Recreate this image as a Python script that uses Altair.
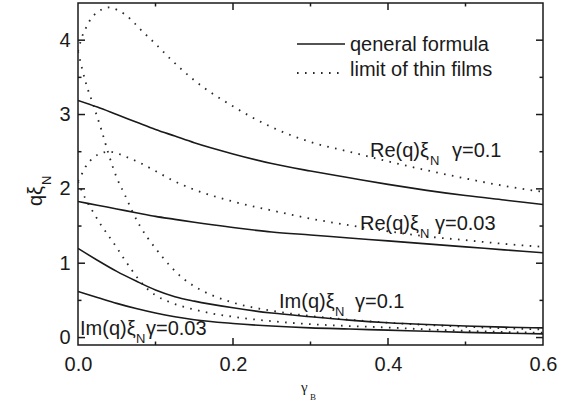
import altair as alt
import pandas as pd

# ---------------- data ----------------
x_gen = [0, 0.025, 0.05, 0.075, 0.1, 0.125, 0.15, 0.2, 0.25, 0.3, 0.35, 0.4, 0.45, 0.5, 0.55, 0.6]
re01_gen = [3.19, 3.10, 3.00, 2.90, 2.80, 2.71, 2.62, 2.47, 2.34, 2.24, 2.15, 2.06, 1.98, 1.91, 1.85, 1.79]
re003_gen = [1.83, 1.78, 1.73, 1.68, 1.63, 1.59, 1.55, 1.48, 1.42, 1.38, 1.34, 1.30, 1.26, 1.22, 1.18, 1.14]
im01_gen = [1.20, 1.04, 0.89, 0.76, 0.64, 0.55, 0.49, 0.40, 0.33, 0.28, 0.235, 0.20, 0.175, 0.155, 0.14, 0.13]
im003_gen = [0.62, 0.54, 0.46, 0.39, 0.33, 0.28, 0.24, 0.19, 0.155, 0.13, 0.115, 0.10, 0.085, 0.07, 0.06, 0.05]

x_re01_thin = [0, 0.005, 0.01, 0.015, 0.02, 0.03, 0.04, 0.05, 0.06, 0.07, 0.08, 0.09, 0.1, 0.12,
               0.15, 0.2, 0.25, 0.3, 0.35, 0.4, 0.45, 0.5, 0.55, 0.6]
re01_thin = [3.85, 4.04, 4.16, 4.26, 4.33, 4.41, 4.44, 4.41, 4.35, 4.26, 4.15, 4.05, 3.95, 3.74,
             3.46, 3.11, 2.83, 2.63, 2.50, 2.37, 2.25, 2.14, 2.04, 1.96]

x_im01_thin = [0, 0.01, 0.02, 0.03, 0.04, 0.05, 0.06, 0.07, 0.08, 0.09, 0.1, 0.11, 0.12, 0.135,
               0.15, 0.175, 0.2, 0.25, 0.3, 0.35, 0.4, 0.45, 0.5, 0.55, 0.6]
im01_thin = [3.85, 3.43, 3.12, 2.80, 2.45, 2.15, 1.93, 1.70, 1.50, 1.34, 1.20, 1.07, 0.95, 0.80,
             0.69, 0.56, 0.47, 0.36, 0.29, 0.24, 0.20, 0.17, 0.145, 0.125, 0.11]

x_re003_thin = [0, 0.005, 0.01, 0.02, 0.03, 0.04, 0.05, 0.06, 0.08, 0.1, 0.125, 0.15, 0.2, 0.25,
                0.3, 0.35, 0.4, 0.45, 0.5, 0.55, 0.6]
re003_thin = [2.10, 2.20, 2.30, 2.42, 2.48, 2.50, 2.48, 2.44, 2.35, 2.24, 2.10, 1.99, 1.83, 1.71,
              1.60, 1.51, 1.43, 1.36, 1.31, 1.26, 1.22]

x_im003_thin = [0, 0.005, 0.01, 0.02, 0.03, 0.04, 0.05, 0.06, 0.07, 0.08, 0.09, 0.1, 0.12, 0.145,
                0.175, 0.2, 0.25, 0.3, 0.35, 0.4, 0.45, 0.5, 0.55, 0.6]
im003_thin = [2.10, 1.97, 1.86, 1.68, 1.51, 1.36, 1.21, 1.05, 0.90, 0.76, 0.65, 0.57, 0.47, 0.39,
              0.32, 0.28, 0.22, 0.18, 0.155, 0.135, 0.11, 0.09, 0.075, 0.065]

x_tick_labels = [0, 0.2, 0.4, 0.6]
y_tick_labels = [0, 1, 2, 3, 4]
x_major = [0.2, 0.4]
x_minor = [0.1, 0.3, 0.5]
y_major = [0, 1, 2, 3, 4]
y_minor = [0.5, 1.5, 2.5, 3.5]

legend_labels = ["qeneral formula", "limit of thin films"]

# ---------------- build tables ----------------
rows = []
for name, xs_, ys_ in [("re01", x_gen, re01_gen), ("re003", x_gen, re003_gen),
                       ("im01", x_gen, im01_gen), ("im003", x_gen, im003_gen)]:
    for a, b in zip(xs_, ys_):
        rows.append({"x": a, "y": b, "series": name})
gen_df = pd.DataFrame(rows)

rows = []
for name, xs_, ys_ in [("re01", x_re01_thin, re01_thin), ("re003", x_re003_thin, re003_thin),
                       ("im01", x_im01_thin, im01_thin), ("im003", x_im003_thin, im003_thin)]:
    for a, b in zip(xs_, ys_):
        rows.append({"x": a, "y": b, "series": name})
thin_df = pd.DataFrame(rows)

W, H = 465, 342
XMIN, XMAX = 0.0, 0.6
YMIN, YMAX = -0.1, 4.5
INK = "#1a1a1a"
FONT = "Liberation Sans"
DASH = [1.6, 6.4]

xs = alt.Scale(domain=[XMIN, XMAX], nice=False, zero=False)
ys = alt.Scale(domain=[YMIN, YMAX], nice=False, zero=False)
xaxis = alt.Axis(values=x_tick_labels, format=".1f", title=None, grid=False, domain=False,
                 ticks=False, tickSize=0, labelFontSize=20, labelFont=FONT, labelColor=INK,
                 labelPadding=9, labelFlush=False, labelOverlap=False)
yaxis = alt.Axis(values=y_tick_labels, format="d", title=None, grid=False, domain=False,
                 ticks=False, tickSize=0, labelFontSize=20, labelFont=FONT, labelColor=INK,
                 labelPadding=8, labelFlush=False, labelOverlap=False)

X = alt.X("x:Q", scale=xs, axis=xaxis)
Y = alt.Y("y:Q", scale=ys, axis=yaxis)

solid = alt.Chart(gen_df).mark_line(color=INK, strokeWidth=1.6, interpolate="monotone", clip=True).encode(
    x=X, y=Y, detail="series:N")
dotted = alt.Chart(thin_df).mark_line(color="#2a2a2a", strokeWidth=1.8, strokeDash=DASH,
                                      interpolate="monotone", clip=True).encode(
    x=X, y=Y, detail="series:N")

# inward tick marks (lengths in pixels converted to data units through the scale ranges)
ux = (XMAX - XMIN) / W
uy = (YMAX - YMIN) / H


def xticks(vals, L):
    rows_ = []
    for v in vals:
        rows_.append({"x": v, "y": YMIN, "y2": YMIN + L * uy})
        rows_.append({"x": v, "y": YMAX, "y2": YMAX - L * uy})
    return alt.Chart(pd.DataFrame(rows_)).mark_rule(color=INK, strokeWidth=1.5).encode(
        x=X, y=Y, y2="y2:Q")


def yticks(vals, L):
    rows_ = []
    for v in vals:
        rows_.append({"y": v, "x": XMIN, "x2": XMIN + L * ux})
        rows_.append({"y": v, "x": XMAX, "x2": XMAX - L * ux})
    return alt.Chart(pd.DataFrame(rows_)).mark_rule(color=INK, strokeWidth=1.5).encode(
        y=Y, x=X, x2="x2:Q")


def txt(s, x, y, size=20, font=FONT, angle=None):
    kw = dict(text=s, fontSize=size, font=font, align="left", baseline="alphabetic", color=INK)
    if angle is not None:
        kw["angle"] = angle
    return alt.Chart(alt.Data(values=[{}])).mark_text(**kw).encode(x=alt.value(x), y=alt.value(y))


ticks = [xticks(x_major, 7), xticks(x_minor, 3.5), yticks(y_major, 7), yticks(y_minor, 3.5)]

texts = [
    # Re(q) xi_N gamma=0.1
    txt("Re(q)ξ", 292, 154), txt("N", 352, 162, 13), txt("γ=0.1", 374, 154),
    # Re(q) xi_N gamma=0.03
    txt("Re(q)ξ", 282, 227), txt("N", 342, 235, 13), txt("γ=0.03", 357, 227),
    # Im(q) xi_N gamma=0.1
    txt("Im(q)ξ", 201, 305), txt("N", 257, 313, 13), txt("γ=0.1", 277, 305),
    # Im(q) xi_N gamma=0.03
    txt("Im(q)ξ", 2, 332), txt("N", 58, 340, 13), txt("γ=0.03", 68, 332),
    # legend
    txt(legend_labels[0], 272, 48), txt(legend_labels[1], 272, 73),
    # axis titles
    txt("qξ", -36, 203, 20, angle=270), txt("N", -27, 182, 13, angle=270),
    txt("γ", 223, 389, 15, font="Liberation Serif"), txt("B", 232, 397, 9, font="Liberation Serif"),
]

legend_lines = [
    alt.Chart(alt.Data(values=[{}])).mark_rule(color=INK, strokeWidth=1.5).encode(
        x=alt.value(219), x2=alt.value(267), y=alt.value(41)),
    alt.Chart(alt.Data(values=[{}])).mark_rule(color="#2a2a2a", strokeWidth=1.8, strokeDash=DASH).encode(
        x=alt.value(219), x2=alt.value(267), y=alt.value(70)),
]

chart = alt.layer(dotted, solid, *ticks, *legend_lines, *texts).properties(
    width=W, height=H,
    autosize=alt.AutoSizeParams(type="none"),
    padding={"left": 78, "top": 3, "right": 24, "bottom": 64},
).configure_view(stroke=INK, strokeWidth=1.5)

chart.save("out.html", embed_options={"renderer": "svg", "actions": False})
